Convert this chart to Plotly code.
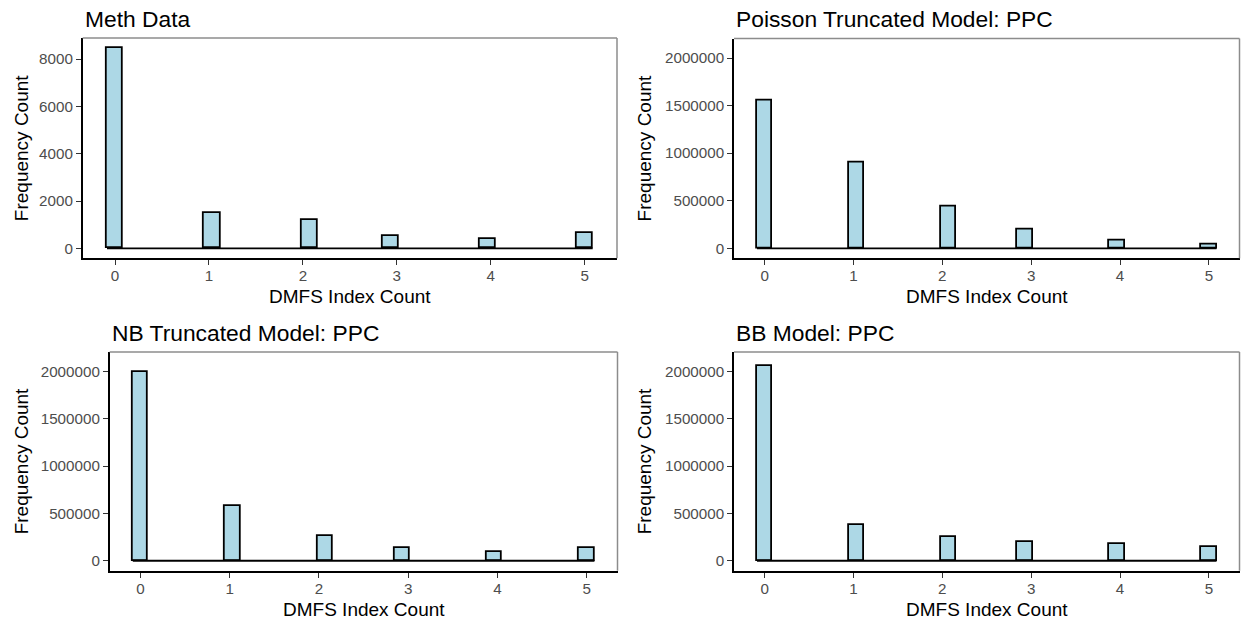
import plotly.graph_objects as go

# DMFS index values (x categories) and frequency counts per panel
dmfs_values = [0, 1, 2, 3, 4, 5]
meth_counts = [8470, 1510, 1210, 535, 395, 645]
poisson_counts = [1554000, 903000, 442000, 193000, 80000, 38000]
nb_counts = [1996000, 583000, 264000, 137000, 88000, 137000]
bb_counts = [2056000, 382000, 249000, 193000, 172000, 144000]

panel_titles = ["Meth Data", "Poisson Truncated Model: PPC",
                "NB Truncated Model: PPC", "BB Model: PPC"]
meth_ticks = [0, 2000, 4000, 6000, 8000]
model_ticks = [0, 500000, 1000000, 1500000, 2000000]
model_ylim = 2100000

W, H = 1241, 623
FONT = "Liberation Sans, Arial, sans-serif"
FILL = "#ADD8E6"

# histogram binning as ggplot does it: 30 bins over the data range
n_bins = 30
lo, hi = min(dmfs_values), max(dmfs_values)
bw = (hi - lo) / (n_bins - 1)
x_lo, x_hi = lo - bw / 2, hi + bw / 2
pad_x = 0.05 * (x_hi - x_lo)

# panel boxes in pixels: left, right, top, bottom
boxes = [(82.7, 617.0, 38.0, 258.3),
         (734.0, 1239.5, 38.5, 258.3),
         (109.7, 617.5, 352.0, 570.7),
         (734.0, 1239.5, 352.0, 570.7)]

panels = [(meth_counts, meth_ticks, max(meth_counts)),
          (poisson_counts, model_ticks, model_ylim),
          (nb_counts, model_ticks, model_ylim),
          (bb_counts, model_ticks, model_ylim)]

fig = go.Figure()
layout = dict(width=W, height=H, margin=dict(l=0, r=0, t=0, b=0),
              plot_bgcolor="white", paper_bgcolor="white",
              showlegend=False, bargap=0, font=dict(family=FONT))
annotations = []
shapes = []

for i, ((counts, ticks, ymax), (l, r, t, b), title) in enumerate(zip(panels, boxes, panel_titles)):
    n = "" if i == 0 else str(i + 1)
    xa, ya = "x" + n, "y" + n
    fig.add_trace(go.Histogram(
        x=dmfs_values, y=counts, histfunc="sum",
        xbins=dict(start=x_lo, end=x_hi, size=bw), autobinx=False,
        marker=dict(color=FILL, line=dict(color="black", width=1.8)),
        xaxis=xa, yaxis=ya))
    # empty bins show as a flat outline along zero
    fig.add_trace(go.Scatter(
        x=[x_lo, x_hi], y=[0, 0], mode="lines",
        line=dict(color="black", width=1.8), hoverinfo="skip",
        xaxis=xa, yaxis=ya))
    pad_y = 0.05 * ymax
    axis_common = dict(showline=True, linecolor="black", linewidth=1.6,
                       ticks="outside", ticklen=5, tickwidth=1.4, tickcolor="#333333",
                       showgrid=False, zeroline=False,
                       tickfont=dict(family=FONT, size=15.2, color="#4D4D4D"))
    layout["xaxis" + n] = dict(
        domain=[l / W, r / W], anchor=ya, range=[x_lo - pad_x, x_hi + pad_x],
        tickmode="array", tickvals=dmfs_values, ticklabelstandoff=-2, **axis_common)
    layout["yaxis" + n] = dict(
        domain=[1 - b / H, 1 - t / H], anchor=xa, range=[-pad_y, ymax + pad_y],
        tickmode="array", tickvals=ticks, tickformat="d", **axis_common)
    # light border on the top and right of each panel
    for x0, y0, x1, y1 in [(0, 1, 1, 1), (1, 0, 1, 1)]:
        shapes.append(dict(type="line", xref=xa + " domain", yref=ya + " domain",
                           x0=x0, y0=y0, x1=x1, y1=y1,
                           line=dict(color="#8C8C8C", width=1.5)))
    # panel title, left-aligned to the panel
    annotations.append(dict(text=title, x=l / W, y=1 - (t - 19.5) / H,
                            xref="paper", yref="paper", xanchor="left", yanchor="middle",
                            showarrow=False, font=dict(family=FONT, size=22.8, color="black")))
    # axis titles
    annotations.append(dict(text="DMFS Index Count", x=(l + r) / 2 / W, y=1 - (b + 38.5) / H,
                            xref="paper", yref="paper", xanchor="center", yanchor="middle",
                            showarrow=False, font=dict(family=FONT, size=19, color="black")))
    ytitle_x = 21.0 if l < 600 else 644.0
    annotations.append(dict(text="Frequency Count", x=ytitle_x / W, y=1 - (t + b) / 2 / H,
                            xref="paper", yref="paper", xanchor="center", yanchor="middle",
                            textangle=-90, showarrow=False,
                            font=dict(family=FONT, size=19, color="black")))

layout["annotations"] = annotations
layout["shapes"] = shapes
fig.update_layout(**layout)
fig.write_html("out.html")
